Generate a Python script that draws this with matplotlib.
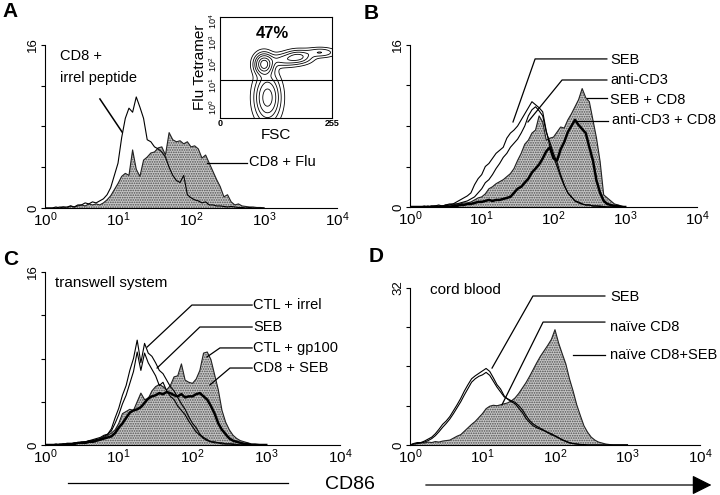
import numpy as np
import matplotlib
matplotlib.use("Agg")
import matplotlib.pyplot as plt
from matplotlib.ticker import NullLocator

plt.rcParams['font.family'] = ['Liberation Sans', 'DejaVu Sans']
plt.rcParams['mathtext.default'] = 'regular'
plt.rcParams['hatch.linewidth'] = 0.8

# CD86 channel positions (log10 units, 0.05 decade steps)
log_cd86 = np.arange(61) * 0.05

# Panel A
a_irrel = [0.0, 0.0, 0.0, 0.1, 0.0, 0.1, 0.1, 0.2, 0.1, 0.3, 0.3, 0.5, 0.4, 0.6, 0.5, 0.7,
           0.9, 1.3, 2.0, 3.2, 4.4, 6.9, 8.8, 9.8, 9.4, 10.9, 9.9, 8.8, 6.7, 6.5, 6.0, 5.8,
           5.5, 5.0, 4.0, 3.2, 2.7, 2.5, 3.2, 1.3, 1.0, 0.8, 0.7, 0.5, 0.6, 0.3, 0.3, 0.2,
           0.2, 0.15, 0.1, 0.15, 0.1, 0.05, 0.05, 0.0, 0.05, 0.0, 0.0, 0.0, 0.0]
a_flu = [0.0, 0.0, 0.0, 0.0, 0.1, 0.1, 0.0, 0.2, 0.1, 0.2, 0.3, 0.2, 0.4, 0.3, 0.4, 0.3,
         0.5, 0.8, 1.2, 1.8, 2.4, 3.1, 3.4, 3.2, 5.7, 3.8, 3.1, 4.7, 5.0, 5.4, 5.5, 5.9,
         6.0, 5.2, 7.4, 6.7, 6.5, 6.6, 6.3, 6.5, 6.0, 6.1, 5.8, 4.9, 5.2, 4.4, 3.6, 2.8,
         2.1, 1.1, 1.3, 0.6, 0.3, 0.4, 0.2, 0.15, 0.1, 0.1, 0.05, 0.05, 0.0]

# Panel B
b_seb = [0.0, 0.0, 0.0, 0.0, 0.1, 0.0, 0.1, 0.1, 0.2, 0.1, 0.2, 0.3, 0.3, 0.5, 0.7, 0.9,
         1.1, 1.4, 2.2, 2.8, 3.2, 4.0, 4.3, 4.8, 5.3, 5.6, 5.9, 6.8, 7.3, 7.6, 8.0, 8.6,
         9.2, 9.8, 10.4, 10.1, 9.8, 9.4, 7.5, 6.0, 5.0, 4.0, 3.0, 2.1, 1.4, 1.0, 0.6, 0.5,
         0.3, 0.2, 0.2, 0.1, 0.1, 0.1, 0.05, 0.0, 0.0, 0.0, 0.0, 0.0, 0.0]
b_cd3 = [0.0, 0.0, 0.0, 0.0, 0.0, 0.1, 0.0, 0.1, 0.1, 0.1, 0.2, 0.2, 0.3, 0.3, 0.4, 0.5,
         0.6, 0.8, 1.0, 1.4, 1.8, 2.4, 2.7, 3.2, 3.8, 4.3, 4.9, 5.3, 5.9, 6.3, 6.7, 7.3,
         8.0, 9.0, 9.6, 9.9, 9.5, 9.0, 7.4, 6.4, 5.3, 4.4, 3.2, 2.2, 1.4, 1.0, 0.6, 0.4,
         0.3, 0.2, 0.2, 0.1, 0.1, 0.05, 0.0, 0.0, 0.0, 0.0, 0.0, 0.0, 0.0]
b_seb_cd8 = [0.0, 0.0, 0.0, 0.0, 0.0, 0.0, 0.1, 0.1, 0.0, 0.1, 0.1, 0.2, 0.2, 0.3, 0.3, 0.4,
             0.4, 0.5, 0.7, 0.9, 1.0, 1.3, 1.8, 2.0, 2.3, 2.5, 2.7, 3.0, 3.3, 3.8, 4.6, 5.3,
             6.2, 6.6, 7.3, 7.6, 9.0, 8.4, 6.6, 6.8, 6.9, 7.4, 7.9, 7.8, 8.6, 9.2, 9.9, 10.6,
             11.7, 10.8, 10.4, 8.6, 6.8, 4.5, 1.2, 0.9, 0.6, 0.3, 0.2, 0.1, 0.0]
b_cd3_cd8 = [0.0, 0.0, 0.0, 0.0, 0.0, 0.0, 0.0, 0.0, 0.0, 0.0, 0.1, 0.0, 0.1, 0.1, 0.2, 0.2,
             0.3, 0.3, 0.4, 0.5, 0.5, 0.6, 0.7, 0.6, 0.7, 0.7, 0.8, 0.9, 1.0, 1.4, 1.8, 2.0,
             2.4, 2.8, 3.4, 3.8, 4.2, 4.8, 5.5, 5.9, 4.8, 4.6, 5.7, 6.4, 7.4, 8.0, 8.6, 8.1,
             7.7, 7.3, 5.9, 4.6, 2.6, 1.4, 0.6, 0.3, 0.2, 0.1, 0.1, 0.0, 0.0]

# Panel C
c_ctl_irrel = [0.0, 0.0, 0.0, 0.1, 0.0, 0.1, 0.1, 0.1, 0.2, 0.2, 0.3, 0.3, 0.4, 0.5, 0.6, 0.7,
               0.9, 1.0, 1.5, 2.5, 3.4, 4.6, 5.5, 6.9, 8.0, 9.7, 7.6, 9.4, 8.5, 8.2, 7.6, 6.9,
               6.6, 6.0, 5.4, 5.0, 4.4, 3.8, 3.3, 2.6, 2.0, 1.6, 1.0, 0.7, 0.5, 0.3, 0.3, 0.2,
               0.2, 0.1, 0.1, 0.1, 0.05, 0.0, 0.0, 0.0, 0.0, 0.0, 0.0, 0.0, 0.0]
c_seb = [0.0, 0.0, 0.0, 0.0, 0.1, 0.1, 0.0, 0.1, 0.2, 0.2, 0.2, 0.3, 0.4, 0.4, 0.5, 0.6,
         0.8, 1.0, 1.3, 2.0, 2.8, 3.8, 4.6, 5.7, 6.8, 8.6, 6.9, 8.5, 7.6, 7.0, 6.4, 5.5,
         5.8, 5.0, 4.5, 4.2, 3.6, 3.2, 2.8, 2.2, 1.7, 1.2, 0.9, 0.6, 0.4, 0.3, 0.2, 0.2,
         0.1, 0.1, 0.1, 0.05, 0.0, 0.0, 0.0, 0.0, 0.0, 0.0, 0.0, 0.0, 0.0]
c_ctl_gp100 = [0.0, 0.0, 0.0, 0.0, 0.0, 0.1, 0.1, 0.1, 0.1, 0.2, 0.2, 0.3, 0.3, 0.4, 0.5, 0.5,
               0.7, 0.9, 1.1, 1.4, 2.0, 2.9, 3.1, 3.3, 3.2, 4.0, 4.8, 4.2, 4.3, 5.0, 5.4, 5.6,
               5.4, 5.1, 5.5, 6.3, 6.4, 7.5, 6.0, 5.8, 5.7, 6.1, 6.9, 8.5, 8.6, 7.9, 6.5, 5.1,
               3.2, 2.1, 1.4, 0.9, 0.6, 0.4, 0.3, 0.2, 0.1, 0.1, 0.05, 0.0, 0.0]
c_cd8_seb = [0.0, 0.0, 0.0, 0.0, 0.0, 0.0, 0.1, 0.1, 0.1, 0.2, 0.2, 0.2, 0.3, 0.3, 0.4, 0.5,
             0.6, 0.7, 0.8, 1.1, 1.6, 2.0, 2.5, 3.0, 3.2, 3.3, 3.5, 3.9, 4.3, 4.5, 4.6, 4.8,
             4.7, 4.9, 4.8, 4.6, 4.5, 4.7, 4.4, 4.5, 4.5, 4.7, 4.8, 4.5, 4.2, 3.6, 2.9, 2.0,
             1.4, 1.0, 0.6, 0.4, 0.3, 0.2, 0.1, 0.1, 0.0, 0.0, 0.0, 0.0, 0.0]

# Panel D
d_seb = [0.0, 0.3, 0.5, 0.5, 0.8, 1.2, 1.6, 2.3, 3.2, 4.2, 4.9, 5.8, 7.0, 8.2, 9.5, 11.0,
         12.3, 13.5, 14.1, 14.6, 15.1, 15.6, 15.0, 13.7, 12.3, 11.4, 10.0, 9.3, 8.8, 8.4, 7.5, 6.6,
         5.4, 4.6, 3.9, 3.5, 3.2, 2.9, 2.5, 2.1, 1.8, 1.4, 1.0, 0.7, 0.4, 0.3, 0.2, 0.1,
         0.1, 0.0, 0.0, 0.0, 0.0, 0.0, 0.0, 0.0, 0.0, 0.0, 0.0, 0.0, 0.0]
d_naive = [0.0, 0.2, 0.3, 0.4, 0.6, 0.9, 1.3, 1.9, 2.7, 3.6, 4.4, 5.3, 6.4, 7.6, 8.8, 10.2,
           11.5, 12.8, 13.5, 14.0, 14.3, 14.8, 14.2, 13.0, 11.8, 10.8, 9.8, 9.4, 9.0, 8.7, 8.0, 7.2,
           6.0, 5.0, 4.3, 3.8, 3.4, 3.0, 2.6, 2.3, 1.9, 1.5, 1.1, 0.8, 0.5, 0.3, 0.2, 0.1,
           0.0, 0.0, 0.0, 0.0, 0.0, 0.0, 0.0, 0.0, 0.0, 0.0, 0.0, 0.0, 0.0]
d_naive_seb = [0.0, 0.2, 0.3, 0.5, 0.4, 0.6, 0.5, 0.7, 0.6, 0.8, 0.9, 1.0, 1.4, 1.8, 2.1, 2.8,
               3.5, 4.2, 4.8, 5.6, 6.4, 7.4, 7.9, 8.1, 8.0, 8.2, 8.4, 8.6, 9.0, 9.6, 10.5, 11.6,
               12.7, 14.0, 15.4, 16.8, 18.1, 19.2, 20.3, 21.5, 23.5, 20.8, 18.6, 16.5, 13.5, 11.0, 8.2, 6.0,
               3.9, 2.6, 1.6, 1.0, 0.6, 0.4, 0.2, 0.1, 0.0, 0.0, 0.0, 0.0, 0.0]

# Inset: FSC vs Flu tetramer populations (FSC, log tetramer, sd FSC, sd log, weight)
pop_fsc = [108, 100, 178, 228, 145]
pop_tet = [0.45, 2.0, 2.35, 2.55, 2.2]
pop_sd_fsc = [16, 12, 18, 20, 22]
pop_sd_tet = [0.6, 0.28, 0.18, 0.13, 0.18]
pop_weight = [1.0, 1.3, 0.55, 0.3, 0.35]

FILL = '#c6c6c6'
DOTS = '#4f4f4f'

fig = plt.figure(figsize=(7.2, 4.95), dpi=100)


def setup_axes(rect, ymax):
    ax = fig.add_axes(rect)
    ax.set_xscale('log')
    ax.set_xlim(1, 1e4)
    ax.set_ylim(0, ymax)
    ax.set_xticks([1, 10, 100, 1000, 10000])
    ax.xaxis.set_minor_locator(NullLocator())
    ax.tick_params(axis='x', length=0, labelsize=11, pad=2)
    ax.set_yticks([0, ymax / 4, ymax / 2, ymax * 3 / 4, ymax])
    ax.set_yticklabels(['0', '', '', '', str(ymax)], rotation=90, va='center')
    ax.tick_params(axis='y', length=3, width=0.8, labelsize=9.5, pad=1)
    for s in ['top', 'right']:
        ax.spines[s].set_visible(False)
    for s in ['left', 'bottom']:
        ax.spines[s].set_linewidth(0.8)
    return ax


def filled(ax, vals):
    x = 10 ** log_cd86
    ax.fill_between(x, vals, color=FILL, hatch='.......', edgecolor=DOTS, linewidth=0)
    ax.plot(x, vals, color='#222222', lw=0.8)


def line(ax, vals, lw=0.8):
    ax.plot(10 ** log_cd86, vals, color='black', lw=lw)


def leader(ax, xs, ys, label, tx, ty):
    ax.plot(xs, ys, transform=ax.transAxes, color='black', lw=0.9, clip_on=False)
    ax.text(tx, ty, label, transform=ax.transAxes, fontsize=10.5, va='center', ha='left')


# ---- A ----
axA = setup_axes([0.0625, 0.5798, 0.4056, 0.3293], 16)
filled(axA, a_flu)
line(axA, a_irrel)
axA.text(0.05, 0.93, 'CD8 +', transform=axA.transAxes, fontsize=10.5, va='center')
axA.text(0.05, 0.80, 'irrel peptide', transform=axA.transAxes, fontsize=10.5, va='center')
axA.plot([0.188, 0.264], [0.669, 0.466], transform=axA.transAxes, color='black', lw=1.1)
leader(axA, [0.555, 0.69], [0.276, 0.276], 'CD8 + Flu', 0.697, 0.28)

# inset contour
axI = fig.add_axes([0.3056, 0.7616, 0.1556, 0.2040])
fsc = np.linspace(0, 255, 200)
tet = np.linspace(-0.5, 4.2, 200)
F, T = np.meshgrid(fsc, tet)
dens = np.zeros_like(F)
for mx, my, sx, sy, w in zip(pop_fsc, pop_tet, pop_sd_fsc, pop_sd_tet, pop_weight):
    dens += w * np.exp(-0.5 * (((F - mx) / sx) ** 2 + ((T - my) / sy) ** 2))
axI.contour(F, T, dens, levels=[0.05, 0.15, 0.3, 0.5, 0.8, 1.1], colors='black',
            linewidths=0.6)
axI.axhline(1.25, color='black', lw=0.8)
axI.set_xlim(0, 255)
axI.set_ylim(-0.5, 4.2)
axI.set_xticks([0, 255])
axI.set_xticklabels(['0', '255'], fontsize=6.5, fontweight='bold')
axI.set_yticks([0, 1, 2, 3, 4])
axI.set_yticklabels([r'$10^{%d}$' % k for k in range(5)], fontsize=6.5, rotation=90, va='center')
axI.tick_params(length=0, pad=1)
for s in axI.spines.values():
    s.set_linewidth(0.8)
axI.set_xlabel('FSC', fontsize=11, labelpad=0)
axI.set_ylabel('Flu Tetramer', fontsize=11, labelpad=0)
axI.text(0.47, 0.84, '47%', transform=axI.transAxes, fontsize=12, fontweight='bold',
         ha='center', va='center')

# ---- B ----
axB = setup_axes([0.5694, 0.5818, 0.3986, 0.3273], 16)
filled(axB, b_seb_cd8)
line(axB, b_seb)
line(axB, b_cd3)
line(axB, b_cd3_cd8, lw=1.8)
leader(axB, [0.359, 0.436, 0.686], [0.525, 0.914, 0.914], 'SEB', 0.697, 0.907)
leader(axB, [0.411, 0.530, 0.686], [0.525, 0.784, 0.784], 'anti-CD3', 0.697, 0.784)
leader(axB, [0.617, 0.686], [0.673, 0.673], 'SEB + CD8', 0.697, 0.660)
leader(axB, [0.582, 0.690], [0.531, 0.531], 'anti-CD3 + CD8', 0.705, 0.537)

# ---- C ----
axC = setup_axes([0.0625, 0.1010, 0.4097, 0.3495], 16)
filled(axC, c_ctl_gp100)
line(axC, c_ctl_irrel)
line(axC, c_seb)
line(axC, c_cd8_seb, lw=1.8)
axC.text(0.034, 0.936, 'transwell system', transform=axC.transAxes, fontsize=11, va='center')
leader(axC, [0.346, 0.498, 0.702], [0.566, 0.809, 0.809], 'CTL + irrel', 0.705, 0.809)
leader(axC, [0.380, 0.525, 0.702], [0.445, 0.682, 0.682], 'SEB', 0.705, 0.682)
leader(axC, [0.549, 0.593, 0.702], [0.509, 0.561, 0.561], 'CTL + gp100', 0.705, 0.561)
leader(axC, [0.559, 0.627, 0.702], [0.347, 0.445, 0.445], 'CD8 + SEB', 0.705, 0.445)

# ---- D ----
axD = setup_axes([0.5694, 0.1010, 0.4028, 0.3172], 32)
filled(axD, d_naive_seb)
line(axD, d_seb)
line(axD, d_naive)
axD.text(0.069, 0.985, 'cord blood', transform=axD.transAxes, fontsize=11, va='center')
leader(axD, [0.283, 0.424, 0.672], [0.490, 0.949, 0.949], 'SEB', 0.690, 0.943)
leader(axD, [0.317, 0.459, 0.672], [0.255, 0.783, 0.783], 'naïve CD8', 0.690, 0.752)
leader(axD, [0.562, 0.672], [0.573, 0.573], 'naïve CD8+SEB', 0.690, 0.573)

# panel letters
for lab, x, y in [('A', 0.014, 0.976), ('B', 0.516, 0.972), ('C', 0.015, 0.475), ('D', 0.522, 0.481)]:
    fig.text(x, y, lab, fontsize=15, fontweight='bold', ha='center', va='center')

# shared x axis label with arrow
fig.add_artist(plt.Line2D([0.0944, 0.40], [0.0242, 0.0242], color='black', lw=0.9))
fig.text(0.486, 0.022, 'CD86', fontsize=14, ha='center', va='center')
fig.patches.append(matplotlib.patches.FancyArrowPatch(
    (0.5875, 0.0202), (0.992, 0.0202), transform=fig.transFigure, figure=fig,
    arrowstyle='-|>,head_length=1.0,head_width=0.5', mutation_scale=12, color='black', lw=0.9))

fig.savefig('out.png', dpi=100)
